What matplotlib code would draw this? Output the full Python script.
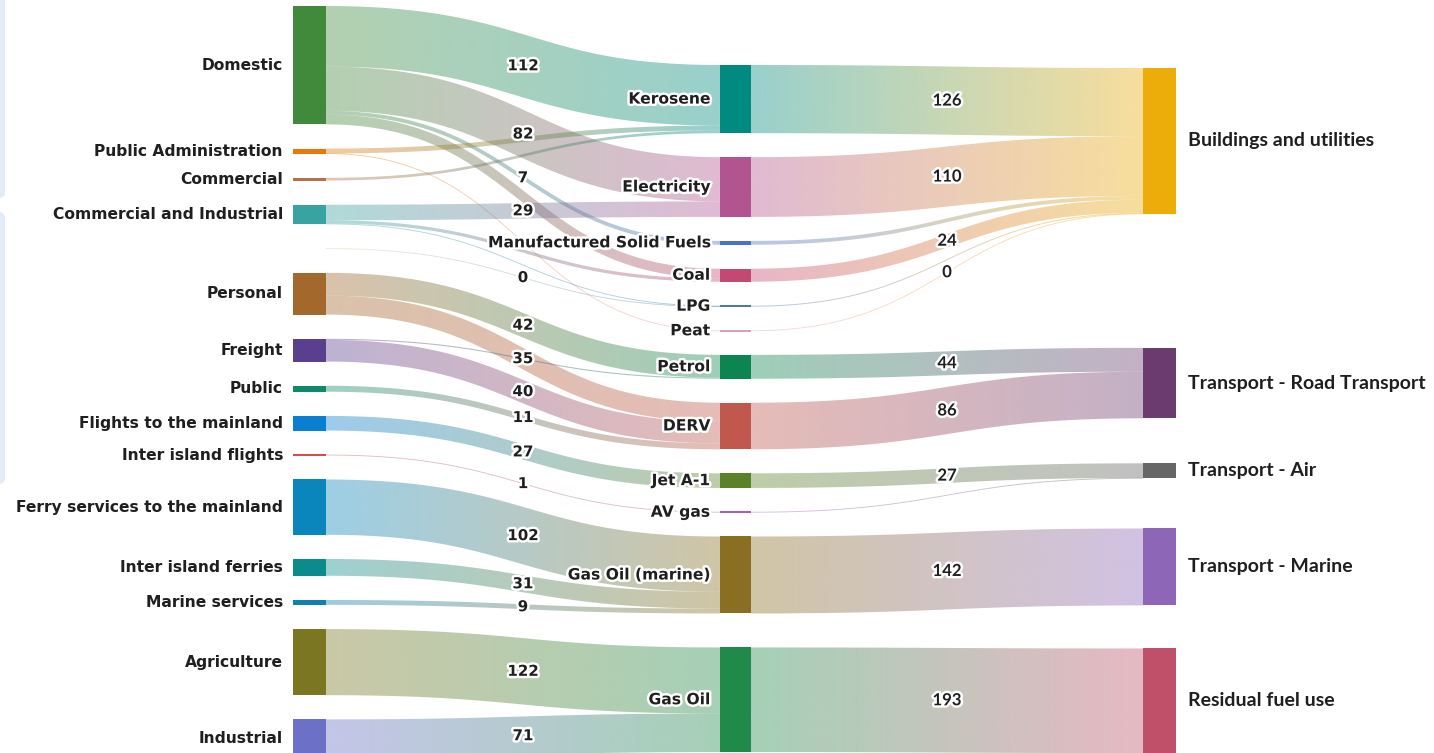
import numpy as np
import matplotlib
matplotlib.use("Agg")
import matplotlib.pyplot as plt
from matplotlib.path import Path
from matplotlib.patches import PathPatch, FancyBboxPatch
from matplotlib.colors import to_rgb
import matplotlib.patheffects as pe

# ---------------- data ----------------
left_nodes = ["Domestic", "Public Administration", "Commercial", "Commercial and Industrial", "",
              "Personal", "Freight", "Public", "Flights to the mainland", "Inter island flights",
              "Ferry services to the mainland", "Inter island ferries", "Marine services",
              "Agriculture", "Industrial"]
left_colors = ["#418a3c", "#e8780a", "#b5704a", "#38a3a0", "#c8d8a0",
               "#a2682c", "#5b3f8f", "#10896a", "#0a7ed0", "#d05050",
               "#0a86bd", "#0b8b8b", "#0f80b0", "#7b7622", "#6c70c6"]

mid_nodes = ["Kerosene", "Electricity", "Manufactured Solid Fuels", "Coal", "LPG", "Peat",
             "Petrol", "DERV", "Jet A-1", "AV gas", "Gas Oil (marine)", "Gas Oil"]
mid_colors = ["#008a80", "#b1548f", "#4a72c9", "#c24a72", "#4a78b0", "#e0a0b0",
              "#0d8550", "#c0584e", "#5c8229", "#a060b8", "#8a6f22", "#208a4a"]

right_nodes = ["Buildings and utilities", "Transport - Road Transport", "Transport - Air",
               "Transport - Marine", "Residual fuel use"]
right_colors = ["#ecad0a", "#6b3b70", "#666666", "#8e66b8", "#c0506a"]

# left -> middle flows
flow1_src = ["Domestic", "Domestic", "Domestic", "Domestic",
             "Public Administration", "Public Administration", "Commercial",
             "Commercial and Industrial", "Commercial and Industrial", "Commercial and Industrial", "",
             "Personal", "Personal", "Freight", "Freight", "Public",
             "Flights to the mainland", "Inter island flights",
             "Ferry services to the mainland", "Inter island ferries", "Marine services",
             "Agriculture", "Industrial"]
flow1_tgt = ["Kerosene", "Electricity", "Manufactured Solid Fuels", "Coal",
             "Kerosene", "Peat", "Kerosene",
             "Electricity", "Coal", "LPG", "LPG",
             "Petrol", "DERV", "Petrol", "DERV", "DERV",
             "Jet A-1", "AV gas",
             "Gas Oil (marine)", "Gas Oil (marine)", "Gas Oil (marine)",
             "Gas Oil", "Gas Oil"]
flow1_val = [111.8, 81.6, 7, 18,
             9, 0.3, 5,
             28.6, 6, 1.5, 0.3,
             42, 35, 2, 40, 11,
             27, 1,
             102, 31, 9,
             122, 71]
flow1_show = [1, 1, 1, 0,
              0, 0, 0,
              1, 0, 0, 1,
              1, 1, 0, 1, 1,
              1, 1,
              1, 1, 1,
              1, 1]

# middle -> right flows
flow2_src = ["Kerosene", "Electricity", "Manufactured Solid Fuels", "Coal", "LPG", "Peat",
             "Petrol", "DERV", "Jet A-1", "AV gas", "Gas Oil (marine)", "Gas Oil"]
flow2_tgt = ["Buildings and utilities"] * 6 + ["Transport - Road Transport"] * 2 + \
            ["Transport - Air"] * 2 + ["Transport - Marine", "Residual fuel use"]
flow2_val = [125.8, 110.2, 7, 24, 1.8, 0.3, 44, 86, 27, 1, 142, 193]
flow2_show = [1, 1, 0, 1, 0, 1, 1, 1, 1, 0, 1, 1]

# ---------------- layout ----------------
W, H = 1434, 753
k = 0.542            # pixels per unit
col_x = [293, 720, 1143]
node_w = [33, 31, 33]
col_top = [6, 65, 68]
left_gaps = [24.2] * (len(left_nodes) - 1)
mid_gaps = [24] * 10 + [34]
right_gaps = [134, 45, 50, 43]

columns = [left_nodes, mid_nodes, right_nodes]
colors = [left_colors, mid_colors, right_colors]
gaps = [left_gaps, mid_gaps, right_gaps]

src_all = flow1_src + flow2_src
tgt_all = flow1_tgt + flow2_tgt
val_all = flow1_val + flow2_val
show_all = flow1_show + flow2_show

col_of, color_of = {}, {}
for c, names in enumerate(columns):
    for n, colr in zip(names, colors[c]):
        col_of[n] = c
        color_of[n] = colr

value_of = {}
for n in col_of:
    vin = sum(v for t, v in zip(tgt_all, val_all) if t == n)
    vout = sum(v for s, v in zip(src_all, val_all) if s == n)
    value_of[n] = max(vin, vout)

y0_of, y1_of = {}, {}
for c, names in enumerate(columns):
    y = col_top[c]
    for i, n in enumerate(names):
        if i > 0:
            y += gaps[c][i - 1]
        y0_of[n] = y
        y += value_of[n] * k
        y1_of[n] = y

def yc(n):
    return (y0_of[n] + y1_of[n]) / 2

# link offsets at each end (sorted like d3-sankey)
n_links = len(val_all)
sy, ty = [0.0] * n_links, [0.0] * n_links
for n in col_of:
    outs = sorted([i for i in range(n_links) if src_all[i] == n], key=lambda i: yc(tgt_all[i]))
    y = y0_of[n]
    for i in outs:
        sy[i] = y + val_all[i] * k / 2
        y += val_all[i] * k
    ins = sorted([i for i in range(n_links) if tgt_all[i] == n], key=lambda i: yc(src_all[i]))
    y = y0_of[n]
    for i in ins:
        ty[i] = y + val_all[i] * k / 2
        y += val_all[i] * k

# ---------------- draw ----------------
fig = plt.figure(figsize=(W / 100, H / 100), dpi=100)
ax = fig.add_axes([0, 0, 1, 1])
ax.set_axis_off()

# faint panel edge on the far left (screenshot background)
for yb, hb in [(-10, 208), (212, 272)]:
    ax.add_patch(FancyBboxPatch((-10, yb), 15, hb, boxstyle="round,pad=0,rounding_size=6",
                                fc="#e3ebf6", ec="none", zorder=0))

t = np.linspace(0, 1, 120)
for i in range(n_links):
    s, g, v = src_all[i], tgt_all[i], val_all[i]
    cs, cg = col_of[s], col_of[g]
    x0 = col_x[cs] + node_w[cs]
    x1 = col_x[cg]
    ya, yb = sy[i], ty[i]
    xm = (x0 + x1) / 2
    # cubic bezier, control points at xm
    px = (1 - t) ** 3 * x0 + 3 * (1 - t) ** 2 * t * xm + 3 * (1 - t) * t ** 2 * xm + t ** 3 * x1
    py = (1 - t) ** 3 * ya + 3 * (1 - t) ** 2 * t * ya + 3 * (1 - t) * t ** 2 * yb + t ** 3 * yb
    dx = np.gradient(px)
    dy = np.gradient(py)
    norm = np.hypot(dx, dy)
    nx, ny = -dy / norm, dx / norm
    w = max(v * k, 0.9) / 2
    top = np.column_stack([px + nx * w, py + ny * w])
    bot = np.column_stack([px - nx * w, py - ny * w])
    verts = np.vstack([top, bot[::-1], top[:1]])
    codes = [Path.MOVETO] + [Path.LINETO] * (len(verts) - 2) + [Path.CLOSEPOLY]
    patch = PathPatch(Path(verts, codes), transform=ax.transData, fc="none", ec="none")
    c1, c2 = np.array(to_rgb(color_of[s])), np.array(to_rgb(color_of[g]))
    f = np.linspace(0, 1, 64)[:, None]
    grad = np.zeros((1, 64, 4))
    grad[0, :, :3] = c1 * (1 - f) + c2 * f
    grad[0, :, 3] = 0.4
    ymin, ymax = verts[:, 1].min() - 2, verts[:, 1].max() + 2
    im = ax.imshow(grad, extent=[x0, x1, ymax, ymin], aspect="auto",
                   interpolation="bilinear", zorder=1)
    im.set_clip_path(patch)

# nodes
for c, names in enumerate(columns):
    for n in names:
        if n == "":
            continue
        h = max(y1_of[n] - y0_of[n], 1.5)
        ax.add_patch(plt.Rectangle((col_x[c], yc(n) - h / 2), node_w[c], h,
                                   fc=color_of[n], ec="none", zorder=3))

halo = [pe.withStroke(linewidth=3.5, foreground="white")]
wide = ["DejaVu Sans"]
narrow = ["Lato", "DejaVu Sans"]

for n in left_nodes:
    if n:
        ax.text(col_x[0] - 10, yc(n), n, ha="right", va="center", fontsize=11.2,
                fontweight="bold", family=wide, color="#1f1f1f", zorder=5)
for n in mid_nodes:
    ax.text(col_x[1] - 10, yc(n), n, ha="right", va="center", fontsize=11.2,
            fontweight="bold", family=wide, color="#1f1f1f", zorder=5, path_effects=halo)
for n in right_nodes:
    ax.text(col_x[2] + node_w[2] + 12, yc(n), n, ha="left", va="center", fontsize=14,
            fontweight="bold", family=narrow, color="#1f1f1f", zorder=5)

# link value labels at link midpoints
for i in range(n_links):
    if not show_all[i]:
        continue
    cs, cg = col_of[src_all[i]], col_of[tgt_all[i]]
    xm = (col_x[cs] + node_w[cs] + col_x[cg]) / 2
    ym = (sy[i] + ty[i]) / 2
    fam = wide if cs == 0 else narrow
    fs = 10.8 if cs == 0 else 12
    ax.text(xm, ym, f"{val_all[i]:.0f}", ha="center", va="center", fontsize=fs,
            fontweight="bold", family=fam, color="#1f1f1f", zorder=6, path_effects=halo)

ax.set_xlim(0, W)
ax.set_ylim(H, 0)
fig.savefig("out.png", dpi=100, facecolor="white")
